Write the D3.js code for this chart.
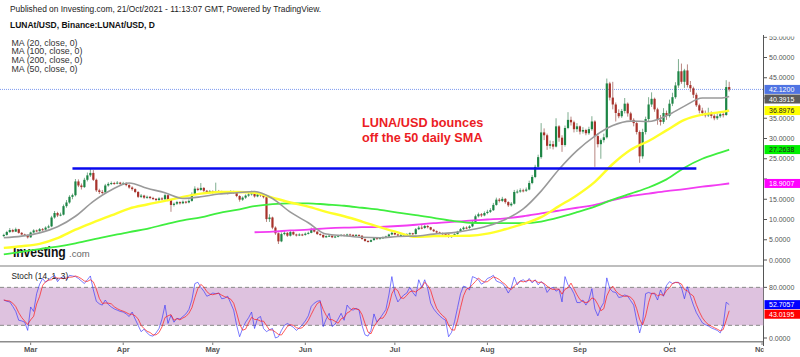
<!DOCTYPE html>
<html><head><meta charset="utf-8">
<script src="https://cdn.jsdelivr.net/npm/d3@7"></script>
<style>html,body{margin:0;padding:0;background:#fff;}svg{display:block;font-family:"Liberation Sans",Arial,sans-serif;}</style>
</head><body><svg id="c" width="800" height="357"></svg>
<script>
// ---------- DATA ----------
const startDate = "2021-02-20";
const firstOpen = 5.9;
const closes = [
6.2,6.9,7.4,7.0,7.6,6.7,6.3,6.1,5.6,6.8,
7.3,7.1,7.6,7.5,8.0,8.3,10.5,11.6,11.0,11.2,
13.3,14.2,15.6,16.0,19.4,18.4,18.0,19.8,20.9,21.5,
19.8,17.2,16.8,16.7,18.4,18.8,19.0,18.9,19.1,18.8,
18.9,18.5,17.9,17.5,16.8,15.6,15.9,15.4,15.6,15.3,
15.1,14.8,15.2,15.0,16.0,14.8,13.6,13.9,14.3,14.0,
14.4,14.2,14.6,16.3,17.6,17.3,17.8,17.1,16.8,17.0,
16.7,17.0,16.8,16.6,16.7,16.5,16.8,16.6,15.8,14.9,
15.4,15.9,16.2,16.6,15.7,16.2,16.0,15.5,10.1,10.5,
8.0,6.6,4.6,6.4,6.7,6.0,6.9,6.3,6.1,6.3,
6.2,6.5,6.7,7.6,7.0,6.4,6.2,5.6,5.9,6.0,
5.6,5.8,6.0,6.2,6.0,6.3,6.2,6.1,6.2,6.0,
5.2,4.7,4.5,4.9,5.4,5.2,5.4,5.6,5.8,6.3,
6.7,6.3,6.1,6.2,6.3,6.4,6.6,6.4,7.6,8.0,
7.9,8.4,8.1,7.5,7.1,6.8,6.6,6.4,6.3,5.7,
5.9,6.4,7.0,7.6,8.0,7.9,8.3,9.4,10.8,11.3,
11.0,11.6,11.9,12.3,13.6,14.9,14.6,15.1,14.3,13.5,
13.9,16.8,16.9,17.2,17.1,17.4,19.0,20.5,23.0,25.4,
31.5,30.8,28.2,28.6,28.0,33.0,30.2,28.4,32.6,34.6,
34.0,32.3,33.0,31.7,32.1,31.3,32.3,34.2,30.6,28.6,
29.6,30.3,43.6,40.1,38.4,36.3,35.5,36.8,38.6,36.2,
34.6,33.8,31.6,25.6,31.6,34.8,38.4,39.8,37.2,34.6,
34.1,36.3,35.6,38.6,40.2,43.1,46.6,44.0,46.8,43.2,
42.4,40.8,38.2,36.9,36.3,35.7,36.2,35.6,35.0,35.5,
36.0,35.8,42.7,42.12];
const highs = [
6.5,7.2,7.9,7.7,8.0,7.7,6.9,6.5,6.3,7.0,
7.6,7.5,7.9,7.9,8.3,8.7,10.9,12.1,11.9,11.7,
13.7,14.8,16.0,16.4,20.0,19.9,18.9,20.3,21.6,22.5,
22.2,20.1,17.6,17.3,18.8,19.2,19.4,19.3,19.5,19.3,
19.3,19.2,18.7,18.2,17.7,17.0,16.3,16.1,15.9,15.8,
15.6,15.3,15.5,15.5,16.4,16.2,15.0,14.2,14.6,14.5,
14.7,14.6,15.0,16.7,18.2,17.9,19.0,18.0,17.3,17.3,
17.2,19.1,17.3,17.1,17.0,17.0,17.2,17.1,16.8,16.0,
15.7,16.2,16.6,17.1,16.8,16.5,16.5,16.3,15.7,11.3,
10.7,8.3,6.8,6.8,7.2,6.9,7.2,7.1,6.5,6.6,
6.5,6.8,7.0,8.0,7.8,7.1,6.6,6.3,6.1,6.2,
6.1,6.0,6.2,6.4,6.4,6.5,6.5,6.4,6.4,6.3,
6.1,5.3,4.9,5.1,5.6,5.6,5.6,5.8,6.0,6.5,
7.0,6.8,6.5,6.4,6.5,6.6,6.8,6.7,7.9,8.4,
8.6,8.7,8.6,8.2,7.7,7.3,7.0,6.8,6.6,6.4,
6.1,6.6,7.2,7.9,8.3,8.3,8.6,9.7,11.2,11.7,
11.6,12.0,12.4,12.8,14.1,15.4,15.3,15.6,15.3,14.5,
14.3,17.3,17.4,17.7,17.6,17.9,19.6,21.0,23.5,26.0,
33.8,32.5,31.2,29.5,29.4,35.0,33.3,30.8,33.2,36.5,
35.4,34.4,33.8,33.2,32.8,32.4,32.9,35.5,34.5,31.3,
30.0,31.2,44.8,44.0,44.0,38.9,37.2,37.3,40.0,38.9,
36.6,35.0,34.2,32.0,32.4,35.4,40.2,41.4,40.1,37.6,
35.8,37.5,36.9,39.6,41.3,43.9,49.6,48.5,47.2,48.3,
44.2,42.8,41.3,38.6,37.6,36.9,37.6,36.7,36.0,36.2,
36.5,36.6,44.4,44.0];
const lows = [
5.7,6.0,6.7,6.8,6.9,6.5,6.1,5.9,5.3,5.5,
6.6,6.9,7.0,7.2,7.3,7.8,8.1,10.2,10.6,10.8,
11.0,12.9,13.9,15.0,15.7,18.0,17.4,17.8,19.4,20.5,
19.5,16.8,16.3,16.2,16.5,18.1,18.5,18.6,18.7,18.5,
18.5,18.2,17.6,17.1,16.5,15.3,15.3,15.1,15.1,15.0,
14.8,14.5,14.6,14.7,14.8,14.5,11.9,13.2,13.6,13.7,
13.8,13.9,14.0,14.4,16.1,17.0,17.1,16.8,16.5,16.5,
16.4,16.5,16.5,16.3,16.3,16.2,16.3,16.3,15.5,14.4,
14.6,15.1,15.6,15.9,15.4,15.5,15.6,15.2,9.4,9.4,
7.6,6.2,3.95,4.4,6.1,5.7,5.8,6.1,5.8,5.9,
5.9,6.0,6.3,6.6,6.8,6.2,6.0,5.4,5.5,5.7,
5.4,5.4,5.6,5.8,5.8,5.8,6.0,5.9,5.9,5.8,
5.0,4.5,4.3,4.4,4.8,5.0,5.1,5.2,5.4,5.7,
6.1,6.1,5.9,5.9,6.0,6.1,6.2,6.2,6.3,7.4,
7.6,7.7,7.8,7.3,6.9,6.6,6.4,6.2,6.0,5.5,
5.5,5.8,6.3,6.9,7.4,7.6,7.7,8.1,9.2,10.5,
10.6,10.8,11.3,11.6,12.1,13.4,14.2,14.3,13.9,13.1,
13.2,13.7,16.4,16.6,16.7,16.8,17.2,18.7,20.2,22.6,
25.0,29.6,27.2,27.5,27.3,27.8,29.2,26.7,28.0,32.3,
33.2,31.5,31.6,31.0,31.2,30.8,30.9,31.9,23.0,27.8,
25.0,29.0,30.0,39.4,37.2,34.2,35.0,35.1,36.2,35.4,
34.1,33.0,31.0,24.0,25.0,31.0,34.3,37.8,36.6,33.4,
33.2,33.6,34.6,35.2,38.0,39.8,42.5,43.5,42.5,42.6,
41.5,40.0,37.8,36.2,35.6,35.2,35.3,35.0,34.5,34.6,
35.1,35.2,35.6,41.6];

// moving averages, read at these day offsets from startDate
const maDays = [0,6,12,18,24,30,36,42,48,54,60,66,72,78,84,90,96,102,108,114,120,126,132,138,144,150,156,162,168,174,180,186,192,198,204,210,216,222,228,234,240,243];
const ma20 = [5.5,5.9,6.7,8.2,10.8,14.5,17.3,19.0,17.7,16.6,15.2,15.6,16.3,16.6,16.9,15.2,11.8,9.2,6.4,6.0,5.6,5.5,5.8,5.9,6.4,6.7,7.4,8.4,10.0,12.6,17.0,22.4,27.0,30.6,33.2,34.3,34.2,35.6,38.0,40.0,40.0,40.39];
const ma50 = [3.0,3.4,4.0,5.4,7.5,9.3,11.0,12.7,13.7,14.6,15.6,16.4,16.8,16.8,16.6,15.4,14.2,13.2,11.9,10.8,9.5,8.1,6.8,5.7,5.9,5.95,6.0,6.5,7.6,8.9,10.6,13.3,16.0,19.3,23.7,27.2,29.4,32.0,34.6,35.9,36.5,36.9];
const ma100 = [1.4,2.0,2.7,3.3,4.1,5.1,6.0,6.9,7.7,8.8,9.8,10.5,11.6,12.4,13.3,13.8,14.0,14.0,13.7,13.4,12.9,12.4,11.7,11.1,10.4,9.7,9.2,9.1,9.1,9.1,9.5,10.5,11.8,13.2,14.9,16.4,17.9,19.9,22.8,25.0,26.5,27.26];
const ma200 = [null,null,null,null,null,null,null,null,null,null,null,null,null,null,6.85,7.0,7.3,7.5,7.8,8.0,8.1,8.2,8.4,8.7,9.1,9.4,9.7,10.0,10.3,10.8,11.5,12.2,12.9,13.6,14.8,15.8,16.4,17.0,17.5,18.1,18.6,18.9];

// Stochastic %K (14,1,3)
const stochK = [
60,58,57,50,42,28,27,25,12,49,
42,70,85,94,88,92,96,99,89,95,
97,92,99,98,97,94,90,86,92,98,
76,58,54,52,60,53,49,46,44,42,
41,38,34,41,30,20,10,14,8,4,
3,8,15,30,52,23,36,25,31,30,
34,38,45,60,86,88,80,74,66,68,
71,70,71,62,63,66,55,44,20,2,
15,25,32,41,15,31,34,15,10,13,
15,0,2,12,20,23,20,17,12,16,
21,27,35,50,55,58,59,18,30,39,
18,22,30,39,28,52,46,44,47,44,
20,5,3,12,38,25,31,38,45,68,
97,70,57,63,68,71,80,72,66,92,
80,92,78,55,46,40,35,31,28,2,
9,26,48,70,82,80,76,97,95,92,
85,88,94,96,99,90,88,86,80,71,
79,96,84,90,92,88,94,87,92,84,
89,85,72,78,80,74,77,57,97,84,
79,70,56,56,60,52,60,78,46,35,
48,56,95,78,73,72,64,65,68,66,
59,52,28,8,26,70,72,70,70,60,
76,66,83,89,86,88,88,80,62,81,
66,52,40,32,24,21,19,16,14,12,
8,20,56.5,52.7];

const priceTicks = [0,5,10,15,20,25,30,35,40,45,50,55];
const stochTicks = [0,80];
const stochBand = [20,80];
const supportLevel = 22.6, supportFromDay = 23, supportToDay = 232;
const lastPrice = 42.12;
const priceLabels = [
  {v:42.12,   txt:"42.1200", bg:"#4f74e3", fg:"#fff"},
  {v:40.3915, txt:"40.3915", bg:"#5c5c5c", fg:"#fff"},
  {v:36.8976, txt:"36.8976", bg:"#ffff00", fg:"#222"},
  {v:27.2638, txt:"27.2638", bg:"#00f000", fg:"#222"},
  {v:18.9007, txt:"18.9007", bg:"#ff00ff", fg:"#fff"}];
const stochLabels = [
  {v:52.7057, txt:"52.7057", bg:"#0000ff", fg:"#fff"},
  {v:43.0195, txt:"43.0195", bg:"#ff0000", fg:"#fff"}];
const legendItems = ["MA (20, close, 0)","MA (100, close, 0)","MA (200, close, 0)","MA (50, close, 0)"];

// ---------- CHART ----------
const svg = d3.select("#c");
const axisX = 763.5;
const t0 = d3.utcParse("%Y-%m-%d")(startDate);
const dayDate = i => d3.utcDay.offset(t0, i);
const x = d3.scaleUtc().domain([dayDate(0), dayDate(243)]).range([3.8, 729.2]);
const y = d3.scaleLinear().domain([0,55]).range([260, 37.25]);
const ys = d3.scaleLinear().domain([0,100]).range([338, 274.7]);

const defs = svg.append("defs");
defs.append("clipPath").attr("id","cm").append("rect").attr("x",0).attr("y",35).attr("width",axisX).attr("height",231);
defs.append("clipPath").attr("id","cma").append("rect").attr("x",0).attr("y",36.5).attr("width",800).attr("height",229.5);
defs.append("clipPath").attr("id","cs").append("rect").attr("x",0).attr("y",266).attr("width",axisX).attr("height",76);
defs.append("clipPath").attr("id","cx").append("rect").attr("x",0).attr("y",342).attr("width",axisX).attr("height",15);

svg.append("rect").attr("width",800).attr("height",357).attr("fill","#fff");

// header
svg.append("text").attr("x",10).attr("y",11.5).attr("font-size",8.4).attr("fill","#222")
  .text("Published on Investing.com, 21/Oct/2021 - 11:13:07 GMT, Powered by TradingView.");
svg.append("text").attr("x",10).attr("y",28).attr("font-size",8.5).attr("font-weight","bold").attr("fill","#111")
  .text("LUNAt/USD, Binance:LUNAt/USD, D");

const gm = svg.append("g").attr("clip-path","url(#cm)");

// last price dotted line
gm.append("line").attr("x1",0).attr("x2",axisX).attr("y1",y(lastPrice)).attr("y2",y(lastPrice))
  .attr("stroke","#7f9bf0").attr("stroke-width",1).attr("stroke-dasharray","1,1");

// Investing logo
gm.append("text").attr("transform","translate(13,256.5) scale(1,1.15)").attr("font-size",12.2).attr("font-weight","bold")
  .attr("fill","#111").attr("letter-spacing",-0.1).text("Investing");
gm.append("text").attr("x",69).attr("y",256.5).attr("font-size",9.5).attr("fill","#666").text(".com");

// candles
const cd = closes.map((c,i)=>({i, d:dayDate(i), o: i?closes[i-1]:firstOpen, c, h:highs[i], l:lows[i]}));
const cg = gm.append("g");
cg.selectAll("line").data(cd).join("line")
  .attr("x1",d=>x(d.d)).attr("x2",d=>x(d.d)).attr("y1",d=>y(d.h)).attr("y2",d=>y(d.l))
  .attr("stroke",d=>d.c>=d.o?"#7fae90":"#b88580").attr("stroke-width",1);
cg.selectAll("rect").data(cd).join("rect")
  .attr("x",d=>x(d.d)-1.1).attr("width",2.2)
  .attr("y",d=>y(Math.max(d.o,d.c)))
  .attr("height",d=>Math.max(1,Math.abs(y(d.o)-y(d.c))))
  .attr("fill",d=>d.c>=d.o?"#1c8545":"#a8322b");

// MAs
const maLine = d3.line().defined(d=>d.v!=null).x(d=>x(dayDate(d.i))).y(d=>y(d.v)).curve(d3.curveMonotoneX);
const mas = [
  {vals:ma200, color:"#f23cf2", w:1.8},
  {vals:ma100, color:"#3fee3f", w:1.8},
  {vals:ma50,  color:"#ffff2a", w:2.4},
  {vals:ma20,  color:"#9a9a9a", w:1.6}];
mas.forEach(m=>{
  gm.append("path").datum(maDays.map((i,k)=>({i, v:m.vals[k]})))
    .attr("d",maLine).attr("fill","none").attr("stroke",m.color).attr("stroke-width",m.w);
});

// support line
gm.append("line").attr("x1",x(dayDate(supportFromDay))).attr("x2",x(dayDate(supportToDay)))
  .attr("y1",y(supportLevel)).attr("y2",y(supportLevel)).attr("stroke","#0a0aee").attr("stroke-width",2.4);

// annotation
const ann = gm.append("text").attr("font-size",12.7).attr("font-weight","bold").attr("fill","#ec1c24");
ann.append("tspan").attr("x",362).attr("y",127).text("LUNA/USD bounces");
ann.append("tspan").attr("x",362).attr("y",142).text("off the 50 daily SMA");

// legend
svg.append("g").selectAll("text").data(legendItems).join("text")
  .attr("x",11.5).attr("y",(d,i)=>45.5+i*8.7).attr("font-size",8.8).attr("fill","#333").text(d=>d);

// value label positions (stacked to avoid overlap)
function stack(list, scale){
  let prev = -1e9;
  return list.map(l=>{
    let cy = scale(l.v);
    if (cy < prev + 9.6) cy = prev + 9.6;
    prev = cy;
    return Object.assign({cy}, l);
  });
}
const pl = stack(priceLabels, y), sl = stack(stochLabels, ys);
const hidden = v => pl.some(l=>Math.abs(l.cy - y(v)) < 6.5);

// price axis
const ga = svg.append("g").attr("clip-path","url(#cma)");
ga.selectAll("line").data(priceTicks).join("line")
  .attr("x1",axisX).attr("x2",axisX+3.5).attr("y1",d=>y(d)).attr("y2",d=>y(d)).attr("stroke","#555");
ga.selectAll("text").data(priceTicks.filter(v=>!hidden(v))).join("text")
  .attr("x",769).attr("y",d=>y(d)).attr("dy","0.36em").attr("font-size",7).attr("fill","#555")
  .text(d=>d.toFixed(4));

// separators & axis lines
svg.append("line").attr("x1",0).attr("x2",axisX).attr("y1",266).attr("y2",266).attr("stroke","#a8a8a8").attr("stroke-width",1.6);
svg.append("line").attr("x1",0).attr("x2",axisX).attr("y1",341.7).attr("y2",341.7).attr("stroke","#8c8c8c").attr("stroke-width",1.6);
svg.append("line").attr("x1",axisX).attr("x2",axisX).attr("y1",35).attr("y2",346).attr("stroke","#555").attr("stroke-width",1);

// stochastic
const gs = svg.append("g").attr("clip-path","url(#cs)");
gs.append("rect").attr("x",0).attr("width",axisX).attr("y",ys(stochBand[1])).attr("height",ys(stochBand[0])-ys(stochBand[1])).attr("fill","#dec2df");
gs.selectAll("line.b").data(stochBand).join("line").attr("class","b")
  .attr("x1",0).attr("x2",axisX).attr("y1",d=>ys(d)).attr("y2",d=>ys(d))
  .attr("stroke","#8a8a8a").attr("stroke-width",1).attr("stroke-dasharray","4,3");
const stochD = stochK.map((v,i)=>d3.mean(stochK.slice(Math.max(0,i-2),i+1)));
const sLine = d3.line().x((d,i)=>x(dayDate(i))).y(d=>ys(d));
gs.append("path").datum(stochK).attr("d",sLine).attr("fill","none").attr("stroke","rgba(40,40,255,0.6)").attr("stroke-width",1);
gs.append("path").datum(stochD).attr("d",sLine).attr("fill","none").attr("stroke","rgba(255,25,25,0.7)").attr("stroke-width",1);
svg.append("text").attr("x",11.5).attr("y",279).attr("font-size",8.3).attr("fill","#222").text("Stoch (14, 1, 3)");

svg.append("g").selectAll("text").data(stochTicks).join("text")
  .attr("x",769).attr("y",d=>ys(d)).attr("dy","0.36em").attr("font-size",7).attr("fill","#555").text(d=>d.toFixed(4));
svg.append("g").selectAll("line").data(stochTicks).join("line")
  .attr("x1",axisX).attr("x2",axisX+3.5).attr("y1",d=>ys(d)).attr("y2",d=>ys(d)).attr("stroke","#555");

function drawLabels(list){
  list.forEach(l=>{
    svg.append("rect").attr("x",764.5).attr("y",l.cy-4.5).attr("width",35.5).attr("height",9).attr("fill",l.bg);
    svg.append("text").attr("x",769).attr("y",l.cy).attr("dy","0.36em").attr("font-size",7).attr("fill",l.fg).text(l.txt);
  });
}
drawLabels(pl);
drawLabels(sl);

// month axis
const months = d3.utcMonth.range(d3.utcParse("%Y-%m-%d")("2021-03-01"), d3.utcParse("%Y-%m-%d")("2021-11-02"));
const gx = svg.append("g").attr("clip-path","url(#cx)");
gx.selectAll("line").data(months).join("line")
  .attr("x1",d=>x(d)).attr("x2",d=>x(d)).attr("y1",342.5).attr("y2",345).attr("stroke","#777");
gx.selectAll("text").data(months).join("text")
  .attr("x",d=>x(d)).attr("y",351.5).attr("text-anchor","middle").attr("font-size",7.5).attr("font-weight","bold").attr("fill","#555")
  .text(d=>d3.utcFormat("%b")(d));
</script></body></html>
